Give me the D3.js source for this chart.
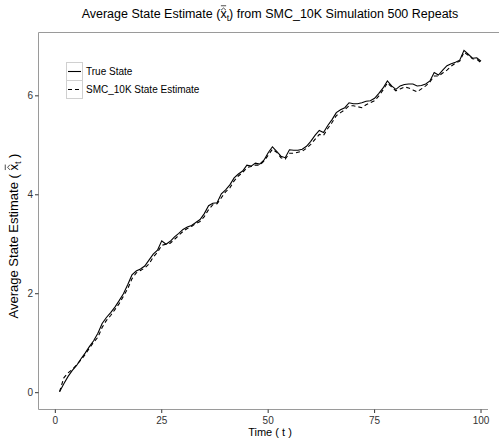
<!DOCTYPE html>
<html>
<head>
<meta charset="utf-8">
<script src="https://cdn.jsdelivr.net/npm/d3@7"></script>
<style>
  body { margin: 0; background: #fff; }
  text { font-family: "Liberation Sans", Arial, sans-serif; }
</style>
</head>
<body>
<div id="chart"></div>
<script>
// Average true state vs SMC_10K estimate, t = 1..100
const trueState = [
  0.02, 0.18, 0.33, 0.45, 0.55, 0.68, 0.80, 0.93, 1.05, 1.20,
  1.40, 1.52, 1.62, 1.73, 1.86, 2.00, 2.18, 2.38, 2.46, 2.50,
  2.56, 2.68, 2.80, 2.88, 3.07, 3.00, 3.06, 3.15, 3.22, 3.30,
  3.35, 3.38, 3.44, 3.50, 3.62, 3.78, 3.83, 3.84, 4.02, 4.10,
  4.20, 4.34, 4.42, 4.48, 4.60, 4.58, 4.64, 4.62, 4.70, 4.85,
  4.97, 4.88, 4.78, 4.75, 4.91, 4.90, 4.90, 4.92, 4.98, 5.08,
  5.20, 5.30, 5.26, 5.40, 5.52, 5.66, 5.72, 5.76, 5.86, 5.84,
  5.84, 5.86, 5.89, 5.90, 5.95, 6.05, 6.16, 6.30, 6.20, 6.13,
  6.20, 6.23, 6.24, 6.24, 6.20, 6.21, 6.24, 6.30, 6.47, 6.42,
  6.52, 6.61, 6.65, 6.68, 6.72, 6.92, 6.84, 6.76, 6.77, 6.70
];
const smcEstimate = [
  0.02, 0.30, 0.40, 0.47, 0.56, 0.66, 0.77, 0.90, 1.02, 1.12,
  1.32, 1.46, 1.56, 1.68, 1.80, 1.95, 2.10, 2.30, 2.42, 2.47,
  2.52, 2.60, 2.74, 2.84, 2.98, 3.00, 3.02, 3.10, 3.18, 3.26,
  3.32, 3.36, 3.42, 3.46, 3.56, 3.70, 3.80, 3.82, 3.94, 4.06,
  4.14, 4.28, 4.38, 4.45, 4.55, 4.57, 4.60, 4.60, 4.68, 4.80,
  4.92, 4.86, 4.75, 4.72, 4.84, 4.84, 4.86, 4.88, 4.94, 5.02,
  5.12, 5.22, 5.20, 5.34, 5.46, 5.60, 5.66, 5.72, 5.80, 5.80,
  5.78, 5.76, 5.82, 5.86, 5.90, 6.00, 6.12, 6.26, 6.18, 6.10,
  6.14, 6.18, 6.16, 6.12, 6.08, 6.14, 6.20, 6.28, 6.40, 6.40,
  6.46, 6.52, 6.60, 6.66, 6.70, 6.88, 6.82, 6.75, 6.74, 6.67
];
const xTicks = [0, 25, 50, 75, 100];
const yTicks = [0, 2, 4, 6];
const legendLabels = ["True State", "SMC_10K State Estimate"];

const W = 499, H = 446;
const svg = d3.select("#chart").append("svg")
  .attr("width", W).attr("height", H);

const x = d3.scaleLinear().domain([-3.95, 104.95]).range([38.5, 502.1]);
const y = d3.scaleLinear().domain([-0.35, 7.27]).range([410, 33]);

const series = [
  { name: legendLabels[0], values: trueState, dash: null },
  { name: legendLabels[1], values: smcEstimate, dash: "4,3" }
];

// panel lines (left axis, bottom axis, top border)
const axisCol = "#9a9a9a";
svg.append("line").attr("x1", 38.5).attr("x2", W).attr("y1", 32.5).attr("y2", 32.5)
  .attr("stroke", axisCol).attr("stroke-width", 1);
svg.append("line").attr("x1", 38.5).attr("x2", 38.5).attr("y1", 32.5).attr("y2", 409.5)
  .attr("stroke", axisCol).attr("stroke-width", 1);
svg.append("line").attr("x1", 38.5).attr("x2", 488).attr("y1", 409.5).attr("y2", 409.5)
  .attr("stroke", axisCol).attr("stroke-width", 1);

// x ticks
const gx = svg.append("g");
gx.selectAll("line").data(xTicks).enter().append("line")
  .attr("x1", d => x(d)).attr("x2", d => x(d))
  .attr("y1", 409.5).attr("y2", 413)
  .attr("stroke", "#333").attr("stroke-width", 1);
gx.selectAll("text").data(xTicks).enter().append("text")
  .attr("x", d => x(d)).attr("y", 424)
  .attr("text-anchor", "middle").attr("font-size", 10).attr("fill", "#333")
  .text(d => d);

// y ticks
const gy = svg.append("g");
gy.selectAll("line").data(yTicks).enter().append("line")
  .attr("x1", 35).attr("x2", 38.5)
  .attr("y1", d => y(d)).attr("y2", d => y(d))
  .attr("stroke", "#333").attr("stroke-width", 1);
gy.selectAll("text").data(yTicks).enter().append("text")
  .attr("x", 33).attr("y", d => y(d) + 3.5)
  .attr("text-anchor", "end").attr("font-size", 10).attr("fill", "#333")
  .text(d => d);

// lines
const line = d3.line().x((d, i) => x(i + 1)).y(d => y(d));
svg.selectAll(".series").data(series).enter().append("path")
  .attr("d", d => line(d.values))
  .attr("fill", "none").attr("stroke", "#000").attr("stroke-width", 1.1)
  .attr("stroke-dasharray", d => d.dash);

// text with x, hat, bar and subscript t; hat and bar are drawn as paths
function symbolText(g, parts, fs) {
  const t = g.append("text").attr("font-size", fs).attr("fill", "#000");
  t.append("tspan").text(parts[0]);
  t.append("tspan").text("x");
  t.append("tspan").attr("font-size", fs * 0.7).attr("dy", fs * 0.25).text("t");
  t.append("tspan").attr("dy", -fs * 0.25).text(parts[1]);
  const n = t.node();
  const x0 = n.getSubStringLength(0, parts[0].length);
  const xw = n.getSubStringLength(parts[0].length, 1);
  const cx = x0 + xw / 2;
  g.append("path")
    .attr("d", `M${cx - fs * 0.2},${-fs * 0.62}L${cx},${-fs * 0.8}L${cx + fs * 0.2},${-fs * 0.62}`)
    .attr("fill", "none").attr("stroke", "#000").attr("stroke-width", 0.7);
  g.append("line").attr("x1", x0 + 0.5).attr("x2", x0 + xw - 0.5)
    .attr("y1", -fs * 0.98).attr("y2", -fs * 0.98)
    .attr("stroke", "#000").attr("stroke-width", 0.7);
  return n.getComputedTextLength();
}

// title
const title = svg.append("g");
const tw = symbolText(title, ["Average State Estimate (", ") from SMC_10K Simulation 500 Repeats"], 12.5);
title.attr("transform", `translate(${270 - tw / 2},18)`);

// x axis title
svg.append("text").attr("x", 270).attr("y", 436).attr("text-anchor", "middle")
  .attr("font-size", 11).text("Time ( t )");

// y axis title
const ylab = svg.append("g");
const yw = symbolText(ylab, ["Average State Estimate ( ", " )"], 13);
ylab.attr("transform", `translate(18,${236 + yw / 2}) rotate(-90)`);

// legend
const leg = svg.append("g").attr("transform", "translate(66,62)");
const rows = leg.selectAll("g").data(series).enter().append("g")
  .attr("transform", (d, i) => `translate(0,${i * 18})`);
rows.append("rect").attr("x", 0.5).attr("y", 0.5).attr("width", 16).attr("height", 18)
  .attr("fill", "#fff").attr("stroke", "#d0d0d0").attr("stroke-width", 1);
rows.append("line").attr("x1", 2).attr("x2", 15).attr("y1", 9.5).attr("y2", 9.5)
  .attr("stroke", "#000").attr("stroke-width", 1.1)
  .attr("stroke-dasharray", d => d.dash);
rows.append("text").attr("x", 20).attr("y", 13).attr("font-size", 10)
  .text(d => d.name);
</script>
</body>
</html>
